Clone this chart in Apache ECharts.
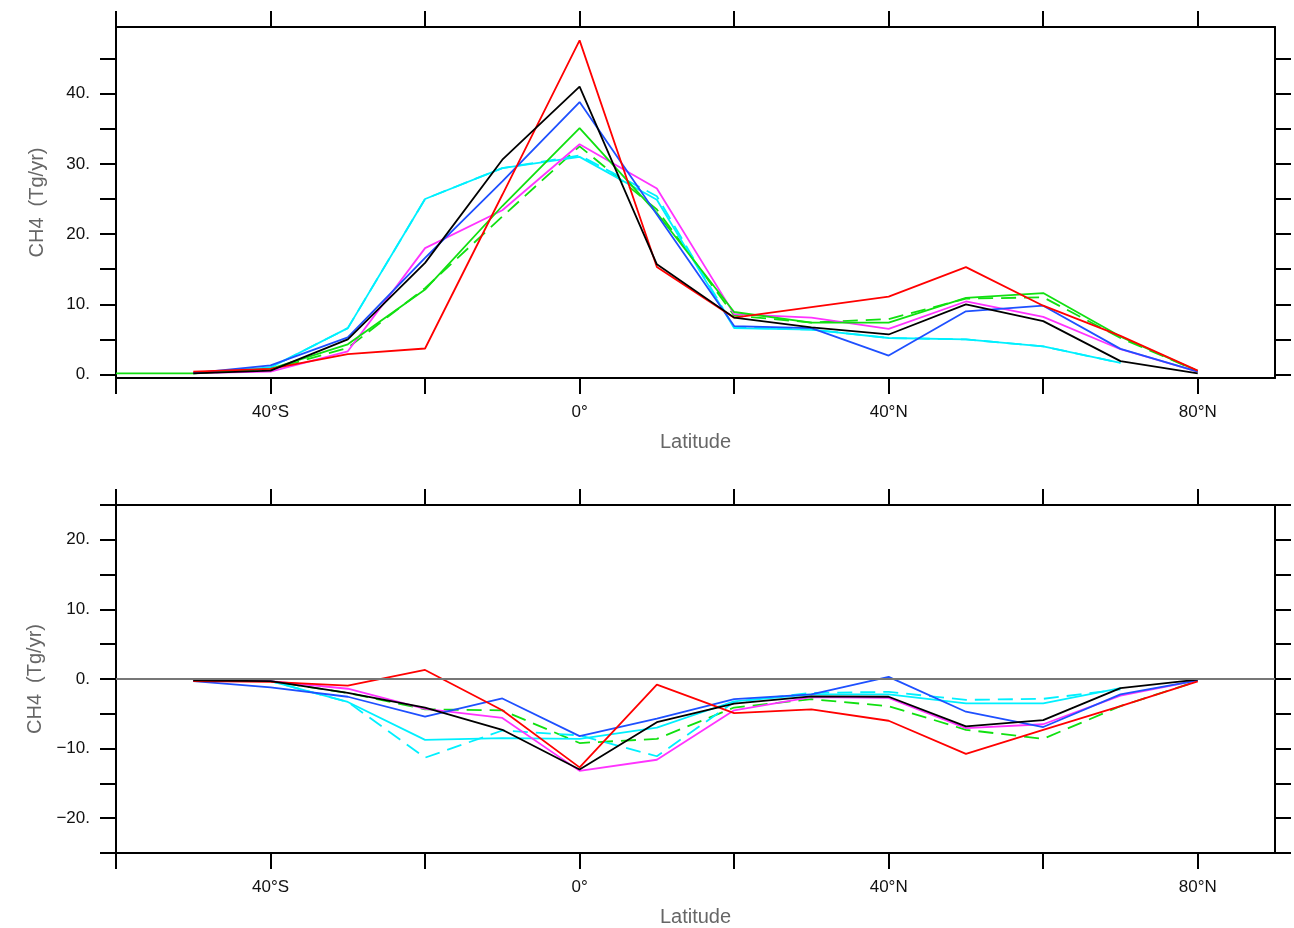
<!DOCTYPE html>
<html>
<head>
<meta charset="utf-8">
<title>CH4 by latitude</title>
<script src="https://cdn.jsdelivr.net/npm/echarts@6/dist/echarts.min.js"></script>
<style>
  html, body { margin: 0; padding: 0; background: #fff; }
  #chart { width: 1294px; height: 928px; }
</style>
</head>
<body>
<div id="chart"></div>
<script>
// latitude of each point (deg, south negative)
var lats = [-60, -50, -40, -30, -20, -10, 0, 10, 20, 30, 40, 50, 60, 70, 80];

// top panel: CH4 emissions (Tg/yr)
var topRed     = [null, 0.4, 0.8, 2.9, 3.7, 25.6, 47.6, 15.3, 8.1, 9.6, 11.1, 15.3, 9.8, 5.5, 0.55];
var topBlack   = [null, 0.15, 0.55, 5.0, 15.9, 30.6, 41.0, 15.7, 8.1, 6.7, 5.7, 10.0, 7.6, 1.9, 0.15];
var topBlue    = [null, 0.2, 1.3, 5.3, 16.6, 27.5, 38.8, 22.8, 6.9, 6.6, 2.7, 9.0, 9.8, 3.65, 0.4];
var topGreen   = [0.15, 0.15, 0.8, 4.3, 12.1, 24.0, 35.1, 23.0, 8.9, 7.4, 7.4, 10.9, 11.6, 5.4, 0.5];
var topGreenDash = [null, 0.15, 0.7, 3.8, 12.3, 22.5, 32.5, 23.5, 8.4, 7.4, 7.9, 10.8, 11.0, 5.2, 0.5];
var topMagenta = [null, 0.2, 0.4, 3.3, 18.0, 23.4, 32.8, 26.5, 8.6, 8.1, 6.5, 10.4, 8.2, 3.6, 0.4];
var topCyan    = [null, 0.2, 1.0, 6.6, 25.0, 29.4, 31.0, 24.9, 6.6, 6.4, 5.2, 5.0, 4.0, 1.65, null];
var topCyanDash = [null, 0.2, 1.0, 6.6, 25.0, 29.4, 31.2, 25.4, 6.7, 6.4, 5.2, 5.0, 4.0, 1.65, null];

// bottom panel: differences (Tg/yr)
var botRed     = [null, -0.3, -0.4, -0.95, 1.3, -4.5, -12.7, -0.8, -4.9, -4.35, -6.0, -10.75, -7.3, -3.9, -0.35];
var botBlack   = [null, -0.2, -0.3, -2.0, -4.1, -7.3, -13.0, -6.2, -3.55, -2.5, -2.55, -6.8, -5.9, -1.3, -0.1];
var botBlue    = [null, -0.3, -1.2, -2.55, -5.4, -2.8, -8.2, -5.7, -2.9, -2.2, 0.3, -4.7, -6.9, -2.2, -0.2];
var botMagenta = [null, -0.2, -0.3, -1.4, -4.3, -5.6, -13.2, -11.6, -4.5, -2.6, -2.7, -7.05, -6.5, -2.4, -0.2];
var botGreenDash = [null, -0.2, -0.3, -2.0, -4.35, -4.5, -9.2, -8.6, -4.1, -2.9, -3.9, -7.3, -8.6, -3.9, -0.3];
var botCyan    = [null, -0.2, -0.3, -3.3, -8.75, -8.5, -8.6, -7.0, -3.2, -2.2, -2.2, -3.5, -3.5, -1.3, null];
var botCyanDash = [null, -0.2, -0.3, -3.3, -11.3, -7.4, -8.1, -11.1, -3.3, -2.0, -1.85, -3.0, -2.85, -1.5, null];

// axis ticks / labels
var latTicks = [-60, -40, -20, 0, 20, 40, 60, 80];
var latLabels = [-40, 0, 40, 80];
var topTicks = [0, 5, 10, 15, 20, 25, 30, 35, 40, 45];
var topLabels = [0, 10, 20, 30, 40];
var botTicks = [-25, -20, -15, -10, -5, 0, 5, 10, 15, 20, 25];
var botLabels = [-20, -10, 0, 10, 20];

var font = '"Liberation Sans", Arial, sans-serif';

function latFmt(v) {
  if (v < 0) return (-v) + '°S';
  if (v > 0) return v + '°N';
  return '0°';
}
function numFmt(v) {
  return (v < 0 ? '\u2212' + (-v) : v) + '.';
}

function pts(arr) {
  return lats.map(function (x, i) { return [x, arr[i]]; });
}

function line(data, color, dashed, idx) {
  return {
    type: 'line',
    xAxisIndex: idx * 2,
    yAxisIndex: idx * 2,
    data: pts(data),
    symbol: 'none',
    connectNulls: false,
    lineStyle: { color: color, width: 1.8, type: dashed ? [15, 8] : 'solid' },
    emphasis: { disabled: true }
  };
}

function xAxes(gridIdx) {
  var base = {
    type: 'value', gridIndex: gridIdx, min: -60, max: 90,
    splitLine: { show: false },
    axisLine: { show: true, onZero: false, lineStyle: { color: '#000', width: 2 } },
    axisTick: { show: true, customValues: latTicks, inside: false, length: 16, lineStyle: { color: '#000', width: 2 } }
  };
  var bottom = Object.assign({}, base, {
    position: 'bottom',
    axisLabel: { customValues: latLabels, formatter: latFmt, fontFamily: font, fontSize: 17, color: '#111', margin: 26 },
    name: 'Latitude', nameLocation: 'middle', nameGap: 54,
    nameTextStyle: { fontFamily: font, fontSize: 20, color: '#666' }
  });
  var top = Object.assign({}, base, { position: 'top', axisLabel: { show: false } });
  return [bottom, top];
}

function yAxes(gridIdx, min, max, ticks, labels) {
  var base = {
    type: 'value', gridIndex: gridIdx, min: min, max: max,
    splitLine: { show: false },
    axisLine: { show: true, onZero: false, lineStyle: { color: '#000', width: 2 } },
    axisTick: { show: true, customValues: ticks, inside: false, length: 16, lineStyle: { color: '#000', width: 2 } }
  };
  var left = Object.assign({}, base, {
    position: 'left',
    axisLabel: { customValues: labels, formatter: numFmt, fontFamily: font, fontSize: 17, color: '#111', margin: 26 },
    name: 'CH4  (Tg/yr)', nameLocation: 'middle', nameRotate: 90, nameGap: 69,
    nameTextStyle: { fontFamily: font, fontSize: 20, color: '#666' }
  });
  var right = Object.assign({}, base, { position: 'right', axisLabel: { show: false } });
  return [left, right];
}

var myChart = echarts.init(document.getElementById('chart'), null, { renderer: 'canvas' });

var xs = xAxes(0).concat(xAxes(1));
var ys = yAxes(0, -0.5, 49.5, topTicks, topLabels).concat(yAxes(1, -25, 25, botTicks, botLabels));

var series = [
  line(topGreenDash, '#10e010', true, 0),
  line(topCyanDash, '#00f0ff', true, 0),
  line(topCyan, '#00f0ff', false, 0),
  line(topMagenta, '#ff33ff', false, 0),
  line(topGreen, '#10e010', false, 0),
  line(topBlue, '#1e50ff', false, 0),
  line(topRed, '#ff0000', false, 0),
  line(topBlack, '#000000', false, 0),

  line(botGreenDash, '#10e010', true, 1),
  line(botCyanDash, '#00f0ff', true, 1),
  line(botCyan, '#00f0ff', false, 1),
  line(botMagenta, '#ff33ff', false, 1),
  line(botBlue, '#1e50ff', false, 1),
  line(botRed, '#ff0000', false, 1),
  line(botBlack, '#000000', false, 1)
];

// zero reference line in the lower panel
series[8].markLine = {
  silent: true,
  symbol: 'none',
  label: { show: false },
  lineStyle: { color: '#777', width: 1.8, type: 'solid' },
  data: [{ yAxis: 0 }]
};

var option = {
  animation: false,
  backgroundColor: '#fff',
  grid: [
    { left: 116, top: 27, width: 1159, height: 351 },
    { left: 116, top: 505, width: 1159, height: 352 }
  ],
  xAxis: xs,
  yAxis: ys,
  series: series
};

myChart.setOption(option);
</script>
</body>
</html>
